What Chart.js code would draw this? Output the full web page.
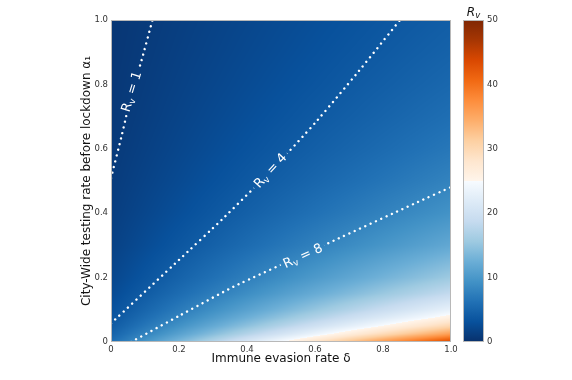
<!DOCTYPE html>
<html lang="en">
<head>
  <meta charset="UTF-8">
  <title>Rv heatmap</title>
  <script src="https://cdn.jsdelivr.net/npm/chart.js"></script>
  <style>
    html, body { margin: 0; padding: 0; background: #fff; }
    #wrap { position: relative; width: 572px; height: 380px; }
    #mainChart { position: absolute; left: 0; top: 0; }
    #barChart { position: absolute; left: 455px; top: 0; }
  </style>
</head>
<body>
  <div id="wrap">
    <canvas id="mainChart" width="572" height="380"></canvas>
    <canvas id="barChart" width="117" height="380"></canvas>
  </div>

  <script>
    // grid axes: immune evasion rate (columns) and testing rate (rows)
    const deltaCols = [0, 0.1, 0.2, 0.3, 0.4, 0.5, 0.6, 0.7, 0.8, 0.9, 1.0];
    const alphaRows = [0, 0.025, 0.05, 0.075, 0.1, 0.15, 0.2, 0.3, 0.4, 0.5, 0.6, 0.7, 0.8, 0.9, 1.0];

    // Rv, one row per alphaRows entry
    const rvGrid = [
      [5.92, 9.74, 13.55, 17.37, 21.19, 25.01, 28.83, 32.65, 36.46, 40.28, 44.10],
      [4.82, 7.93, 11.04, 14.15, 17.27, 20.38, 23.49, 26.60, 29.71, 32.82, 35.93],
      [4.07, 6.69, 9.32, 11.94, 14.57, 17.19, 19.82, 22.44, 25.07, 27.69, 30.32],
      [3.52, 5.79, 8.06, 10.33, 12.60, 14.87, 17.14, 19.41, 21.68, 23.95, 26.22],
      [3.10, 5.10, 7.10, 9.10, 11.10, 13.10, 15.10, 17.10, 19.10, 21.10, 23.10],
      [2.50, 4.12, 5.73, 7.35, 8.96, 10.58, 12.20, 13.81, 15.43, 17.04, 18.66],
      [2.10, 3.45, 4.81, 6.16, 7.52, 8.87, 10.23, 11.58, 12.94, 14.29, 15.65],
      [1.59, 2.61, 3.64, 4.66, 5.69, 6.71, 7.73, 8.76, 9.78, 10.80, 11.83],
      [1.28, 2.10, 2.92, 3.75, 4.57, 5.39, 6.22, 7.04, 7.86, 8.69, 9.51],
      [1.07, 1.76, 2.44, 3.13, 3.82, 4.51, 5.20, 5.89, 6.57, 7.26, 7.95],
      [0.92, 1.51, 2.10, 2.69, 3.28, 3.87, 4.47, 5.06, 5.65, 6.24, 6.83],
      [0.80, 1.32, 1.84, 2.36, 2.88, 3.40, 3.92, 4.43, 4.95, 5.47, 5.99],
      [0.72, 1.18, 1.64, 2.10, 2.56, 3.02, 3.48, 3.95, 4.41, 4.87, 5.33],
      [0.64, 1.06, 1.48, 1.89, 2.31, 2.72, 3.14, 3.56, 3.97, 4.39, 4.80],
      [0.59, 0.96, 1.34, 1.72, 2.10, 2.48, 2.86, 3.24, 3.61, 3.99, 4.37]
    ];

    // contour lines
    const contourLevels = [1, 4, 8];
    const rv1Delta = [0, 0.03, 0.062, 0.09, 0.122];
    const rv1Alpha = [0.509, 0.635, 0.777, 0.875, 1.0];
    const rv4Delta = [0, 0.2, 0.326, 0.47, 0.6, 0.72, 0.85];
    const rv4Alpha = [0.058, 0.255, 0.38, 0.531, 0.68, 0.83, 1.0];
    const rv8Delta = [0.059, 0.2, 0.359, 0.6, 0.903, 1.0];
    const rv8Alpha = [0, 0.081, 0.171, 0.288, 0.435, 0.481];

    // where each contour label sits (data coords)
    const labelDelta = [0.062, 0.47, 0.565];
    const labelAlpha = [0.777, 0.531, 0.266];

    // ticks
    const xTicks = [0, 0.2, 0.4, 0.6, 0.8, 1.0];
    const xTickLabels = ['0', '0.2', '0.4', '0.6', '0.8', '1.0'];
    const yTicks = [0, 0.2, 0.4, 0.6, 0.8, 1.0];
    const yTickLabels = ['0', '0.2', '0.4', '0.6', '0.8', '1.0'];
    const cbarTicks = [0, 10, 20, 30, 40, 50];

    // colour map: reversed Blues up to 25, Oranges above
    const cmapStops = [
      [0, '#08306b'], [3.125, '#08519c'], [6.25, '#2171b5'], [9.375, '#4292c6'],
      [12.5, '#6baed6'], [15.625, '#9ecae1'], [18.75, '#c6dbef'], [21.875, '#deebf7'],
      [25, '#f7fbff'], [25, '#fff5eb'], [28.125, '#fee6ce'], [31.25, '#fdd0a2'],
      [34.375, '#fdae6b'], [37.5, '#fd8d3c'], [40.625, '#f16913'], [43.75, '#d94801'],
      [46.875, '#a63603'], [50, '#7f2704']
    ];
    const cmapMin = 0, cmapMax = 50;

    const FONT = 'DejaVu Sans';
    const TXT = '#333333';

    const stopRGB = cmapStops.map(s => {
      const h = s[1];
      return [s[0], parseInt(h.substr(1, 2), 16), parseInt(h.substr(3, 2), 16), parseInt(h.substr(5, 2), 16)];
    });

    function colourFor(v) {
      if (v <= stopRGB[0][0]) return stopRGB[0].slice(1);
      for (let k = 0; k < stopRGB.length - 1; k++) {
        const a = stopRGB[k], b = stopRGB[k + 1];
        if (v >= a[0] && v <= b[0] && b[0] > a[0]) {
          const t = (v - a[0]) / (b[0] - a[0]);
          return [a[1] + t * (b[1] - a[1]), a[2] + t * (b[2] - a[2]), a[3] + t * (b[3] - a[3])];
        }
      }
      return stopRGB[stopRGB.length - 1].slice(1);
    }

    function locate(arr, v) {
      v = Math.max(arr[0], Math.min(arr[arr.length - 1], v));
      let k = 0;
      while (k < arr.length - 2 && v > arr[k + 1]) k++;
      return { k: k, t: (v - arr[k]) / (arr[k + 1] - arr[k]) };
    }

    const contourDelta = [rv1Delta, rv4Delta, rv8Delta];
    const contourAlpha = [rv1Alpha, rv4Alpha, rv8Alpha];

    function labelParts(level) {
      return [
        { text: 'R', size: 13, dy: 0 },
        { text: 'v', size: 9, dy: 3.5 },
        { text: ' = ' + level, size: 13, dy: 0 }
      ];
    }

    function labelGeom(chart, i) {
      const { ctx, scales: { x, y } } = chart;
      const cx = x.getPixelForValue(labelDelta[i]);
      const cy = y.getPixelForValue(labelAlpha[i]);
      const px = contourDelta[i].map(d => x.getPixelForValue(d));
      const py = contourAlpha[i].map(a => y.getPixelForValue(a));
      let best = 0, bestD = Infinity;
      for (let k = 0; k < px.length - 1; k++) {
        const mx = (px[k] + px[k + 1]) / 2, my = (py[k] + py[k + 1]) / 2;
        const d = (mx - cx) ** 2 + (my - cy) ** 2;
        if (d < bestD) { bestD = d; best = k; }
      }
      let dx = px[best + 1] - px[best], dy = py[best + 1] - py[best];
      if (dx < 0) { dx = -dx; dy = -dy; }
      const angle = Math.atan2(dy, dx);
      let width = 0;
      const parts = labelParts(contourLevels[i]);
      parts.forEach(p => {
        ctx.font = p.size + 'px "' + FONT + '"';
        p.w = ctx.measureText(p.text).width;
        width += p.w;
      });
      return { cx, cy, angle, width, parts };
    }

    const heatmapPlugin = {
      id: 'heatmap',
      beforeDatasetsDraw(chart) {
        const { ctx, chartArea: a, scales: { x, y } } = chart;
        const w = Math.round(a.right - a.left), h = Math.round(a.bottom - a.top);
        const off = document.createElement('canvas');
        off.width = w; off.height = h;
        const octx = off.getContext('2d');
        const img = octx.createImageData(w, h);
        const cols = [], rows = [];
        for (let i = 0; i < w; i++) cols.push(locate(deltaCols, x.getValueForPixel(a.left + i + 0.5)));
        for (let j = 0; j < h; j++) rows.push(locate(alphaRows, y.getValueForPixel(a.top + j + 0.5)));
        for (let j = 0; j < h; j++) {
          const r = rows[j];
          const g0 = rvGrid[r.k], g1 = rvGrid[r.k + 1];
          for (let i = 0; i < w; i++) {
            const c = cols[i];
            const v0 = g0[c.k] + c.t * (g0[c.k + 1] - g0[c.k]);
            const v1 = g1[c.k] + c.t * (g1[c.k + 1] - g1[c.k]);
            const col = colourFor(v0 + r.t * (v1 - v0));
            const o = (j * w + i) * 4;
            img.data[o] = col[0]; img.data[o + 1] = col[1]; img.data[o + 2] = col[2]; img.data[o + 3] = 255;
          }
        }
        octx.putImageData(img, 0, 0);
        ctx.drawImage(off, a.left, a.top, a.right - a.left, a.bottom - a.top);

        // keep the dotted contours out from under their labels
        ctx.save();
        ctx.beginPath();
        ctx.rect(0, 0, chart.width, chart.height);
        contourLevels.forEach((lvl, i) => {
          const g = labelGeom(chart, i);
          const hw = g.width / 2 + 3, hh = 8;
          const cs = Math.cos(g.angle), sn = Math.sin(g.angle);
          const corners = [[-hw, -hh], [hw, -hh], [hw, hh], [-hw, hh]];
          corners.forEach((p, k) => {
            const X = g.cx + p[0] * cs - p[1] * sn;
            const Y = g.cy + p[0] * sn + p[1] * cs;
            if (k === 0) ctx.moveTo(X, Y); else ctx.lineTo(X, Y);
          });
          ctx.closePath();
        });
        ctx.clip('evenodd');
      },
      afterDatasetsDraw(chart) {
        const { ctx, chartArea: a } = chart;
        ctx.restore();

        contourLevels.forEach((lvl, i) => {
          const g = labelGeom(chart, i);
          ctx.save();
          ctx.translate(g.cx, g.cy);
          ctx.rotate(g.angle);
          ctx.fillStyle = '#ffffff';
          ctx.textAlign = 'left';
          ctx.textBaseline = 'middle';
          let xp = -g.width / 2;
          g.parts.forEach(p => {
            ctx.font = p.size + 'px "' + FONT + '"';
            ctx.fillText(p.text, xp, p.dy);
            xp += p.w;
          });
          ctx.restore();
        });

        ctx.save();
        ctx.strokeStyle = '#b8b8b8';
        ctx.lineWidth = 1;
        ctx.strokeRect(a.left + 0.5, a.top + 0.5, a.right - a.left - 1, a.bottom - a.top - 1);
        ctx.restore();
      }
    };

    const contourSets = contourLevels.map((lvl, i) => ({
      label: 'Rv = ' + lvl,
      data: contourDelta[i].map((d, k) => ({ x: d, y: contourAlpha[i][k] })),
      showLine: true,
      borderColor: '#ffffff',
      borderWidth: 2.4,
      borderDash: [0.01, 5.8],
      borderCapStyle: 'round',
      pointRadius: 0,
      tension: 0.15
    }));

    new Chart(document.getElementById('mainChart'), {
      type: 'scatter',
      data: { datasets: contourSets },
      options: {
        responsive: false,
        animation: false,
        layout: { padding: { left: 0, top: 20, right: 121, bottom: 0 } },
        plugins: { legend: { display: false }, tooltip: { enabled: false } },
        scales: {
          x: {
            type: 'linear', min: 0, max: 1,
            afterBuildTicks: s => { s.ticks = xTicks.map(v => ({ value: v })); },
            afterFit: s => { s.height = 38; },
            grid: { display: false, drawTicks: false },
            border: { display: false },
            ticks: {
              autoSkip: false, maxRotation: 0, padding: 3, color: TXT,
              font: { family: FONT, size: 8.5 },
              callback: (v, i) => xTickLabels[i]
            },
            title: {
              display: true, text: 'Immune evasion rate δ', color: '#111',
              font: { family: FONT, size: 12 }, padding: { top: 0, bottom: 14 }
            }
          },
          y: {
            type: 'linear', min: 0, max: 1,
            afterBuildTicks: s => { s.ticks = yTicks.map(v => ({ value: v })); },
            afterFit: s => { s.width = 111; },
            grid: { display: false, drawTicks: false },
            border: { display: false },
            ticks: {
              autoSkip: false, padding: 3, color: TXT,
              font: { family: FONT, size: 8.5 },
              callback: (v, i) => yTickLabels[i]
            },
            title: {
              display: true, text: 'City-Wide testing rate before lockdown α₁', color: '#111',
              font: { family: FONT, size: 12 }, padding: { top: 80, bottom: 0 }
            }
          }
        }
      },
      plugins: [heatmapPlugin]
    });

    const colorbarPlugin = {
      id: 'colorbar',
      beforeDatasetsDraw(chart) {
        const { ctx, chartArea: a, scales: { y } } = chart;
        const y0 = y.getPixelForValue(cmapMin), y1 = y.getPixelForValue(cmapMax);
        const grad = ctx.createLinearGradient(0, y0, 0, y1);
        cmapStops.forEach(s => grad.addColorStop((s[0] - cmapMin) / (cmapMax - cmapMin), s[1]));
        ctx.save();
        ctx.fillStyle = grad;
        ctx.fillRect(a.left, a.top, a.right - a.left, a.bottom - a.top);
        ctx.strokeStyle = '#b8b8b8';
        ctx.lineWidth = 1;
        ctx.strokeRect(a.left + 0.5, a.top + 0.5, a.right - a.left - 1, a.bottom - a.top - 1);

        // colour bar title
        const cx = (a.left + a.right) / 2;
        ctx.fillStyle = '#111';
        ctx.textBaseline = 'alphabetic';
        ctx.textAlign = 'left';
        ctx.font = 'italic 12px "' + FONT + '"';
        const wR = ctx.measureText('R').width;
        ctx.font = 'italic 8.5px "' + FONT + '"';
        const wv = ctx.measureText('v').width;
        const sx = cx - (wR + wv) / 2;
        ctx.font = 'italic 12px "' + FONT + '"';
        ctx.fillText('R', sx, a.top - 4);
        ctx.font = 'italic 8.5px "' + FONT + '"';
        ctx.fillText('v', sx + wR, a.top - 2);
        ctx.restore();
      }
    };

    new Chart(document.getElementById('barChart'), {
      type: 'scatter',
      data: { datasets: [] },
      options: {
        responsive: false,
        animation: false,
        layout: { padding: { left: 8, top: 20, right: 0, bottom: 38 } },
        plugins: { legend: { display: false }, tooltip: { enabled: false } },
        scales: {
          x: { display: false, min: 0, max: 1 },
          y: {
            position: 'right', min: cmapMin, max: cmapMax,
            afterBuildTicks: s => { s.ticks = cbarTicks.map(v => ({ value: v })); },
            afterFit: s => { s.width = 88; },
            grid: { display: false, drawTicks: false },
            border: { display: false },
            ticks: {
              autoSkip: false, padding: 3, color: TXT,
              font: { family: FONT, size: 8.5 },
              callback: v => String(v)
            }
          }
        }
      },
      plugins: [colorbarPlugin]
    });
  </script>
</body>
</html>
